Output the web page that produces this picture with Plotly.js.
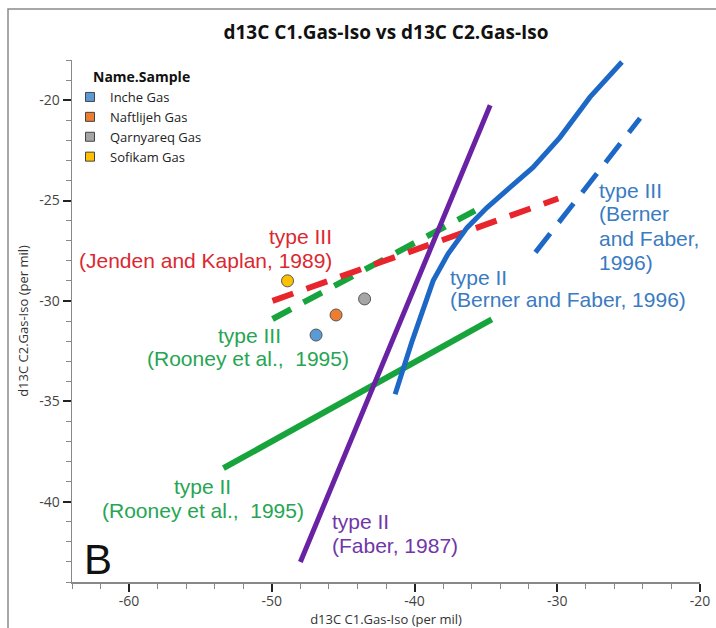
<!DOCTYPE html>
<html>
<head>
<meta charset="utf-8">
<script src="https://cdn.plot.ly/plotly-3.0.1.min.js"></script>
<style>html,body{margin:0;padding:0;background:#fff;}#chart{width:716px;height:628px;}</style>
</head>
<body>
<div id="chart"></div>
<script>
// ---- Sample data ----
const sampleNames = ["Inche Gas", "Naftlijeh Gas", "Qarnyareq Gas", "Sofikam Gas"];
const sampleC1 = [-46.9, -45.5, -43.5, -48.9];
const sampleC2 = [-31.7, -30.7, -29.9, -29.0];
const sampleColors = ["#5b9bd5", "#ed7d31", "#a5a5a5", "#ffc000"];

// ---- Reference lines ----
// type II (Faber, 1987)
const faberC1 = [-48.0, -34.7];
const faberC2 = [-43.0, -20.25];
// type II (Berner and Faber, 1996)
const bernerIIC1 = [-41.36, -40.17, -38.70, -37.65, -36.32, -34.92, -33.31, -31.70, -29.81, -27.71, -25.47];
const bernerIIC2 = [-34.65, -32.0, -29.0, -27.65, -26.35, -25.35, -24.35, -23.35, -21.85, -19.85, -18.1];
// type III (Berner and Faber, 1996)
const bernerIIIC1 = [-31.53, -24.2];
const bernerIIIC2 = [-27.58, -20.9];
// type III (Jenden and Kaplan, 1989)
const jendenC1 = [-49.95, -29.93];
const jendenC2 = [-30.0, -24.9];
// type III (Rooney et al., 1995)
const rooneyIIIC1 = [-49.95, -35.76];
const rooneyIIIC2 = [-30.9, -25.5];
// type II (Rooney et al., 1995)
const rooneyIIC1 = [-53.39, -34.59];
const rooneyIIC2 = [-38.33, -30.92];

// ---- Ticks ----
const xTickVals = [-60, -50, -40, -30, -20];
const xTickText = ["-60", "-50", "-40", "-30", "-20"];
const yTickVals = [-40, -35, -30, -25, -20];
const yTickText = ["-40", "-35", "-30", "-25", "-20"];

const traces = [];
function refLine(x, y, color, width, dash) {
  traces.push({x: x, y: y, type: "scatter", mode: "lines", showlegend: false, hoverinfo: "skip",
    line: {color: color, width: width, dash: dash || "solid"}});
}
refLine(rooneyIIC1, rooneyIIC2, "#17a43c", 6);
refLine(rooneyIIIC1, rooneyIIIC2, "#17a43c", 6, "21px,14px");
refLine(jendenC1, jendenC2, "#e8242c", 6, "22px,14px");
refLine(faberC1, faberC2, "#6a22a4", 5);
refLine(bernerIIC1, bernerIIC2, "#1d68c6", 5);
refLine(bernerIIIC1, bernerIIIC2, "#1d68c6", 5, "24px,14px");

// sample points
for (let i = 0; i < sampleNames.length; i++) {
  traces.push({x: [sampleC1[i]], y: [sampleC2[i]], type: "scatter", mode: "markers", name: sampleNames[i],
    showlegend: false, legendgroup: sampleNames[i],
    marker: {symbol: "circle", size: 12, color: sampleColors[i], line: {color: "#555", width: 1}}});
}
// legend entries (square swatches)
for (let i = 0; i < sampleNames.length; i++) {
  traces.push({x: [null], y: [null], type: "scatter", mode: "markers", name: sampleNames[i],
    showlegend: true, legendgroup: sampleNames[i],
    marker: {symbol: "square", size: 9, color: sampleColors[i], line: {color: "#444", width: 1}}});
}

const annFont = "Liberation Sans, Arial, sans-serif";
function ann(text, x, y, color, xanchor) {
  return {text: text, x: x, y: y, xref: "x", yref: "y", showarrow: false, xanchor: xanchor, yanchor: "middle",
    font: {family: annFont, size: 21, color: color}};
}
const red = "#dc2830", green = "#26a552", blue = "#3a7bc2", purple = "#7236a8";
const annotations = [
  ann("type III", -45.63, -26.8, red, "right"),
  ann("(Jenden and Kaplan, 1989)", -45.63, -28.0, red, "right"),
  ann("type III", -51.58, -31.7, green, "center"),
  ann("(Rooney et al.,  1995)", -51.65, -32.85, green, "center"),
  ann("type III", -27.21, -24.5, blue, "left"),
  ann("(Berner", -27.21, -25.65, blue, "left"),
  ann("and Faber,", -27.21, -26.9, blue, "left"),
  ann("1996)", -27.21, -28.1, blue, "left"),
  ann("type II", -37.63, -28.83, blue, "left"),
  ann("(Berner and Faber, 1996)", -37.63, -29.92, blue, "left"),
  ann("type II", -54.84, -39.25, green, "center"),
  ann("(Rooney et al.,  1995)", -54.84, -40.42, green, "center"),
  ann("type II", -45.91, -41.0, purple, "left"),
  ann("(Faber, 1987)", -45.91, -42.17, purple, "left"),
  {text: "B", x: -63.28, y: -42.9, xref: "x", yref: "y", showarrow: false, xanchor: "left", yanchor: "middle",
    font: {family: annFont, size: 42, color: "#111"}},
  {text: "<b>Name.Sample</b>", x: (90.7 - 72) / 628, y: (582 - 76.7) / 522, xref: "paper", yref: "paper",
    showarrow: false, xanchor: "left", yanchor: "middle",
    font: {family: "Open Sans, sans-serif", size: 14, color: "#111"}}
];

const tickFont = {family: "Open Sans, sans-serif", size: 14, color: "#444"};
const layout = {
  width: 716, height: 628,
  margin: {l: 72, r: 16, t: 60, b: 46},
  paper_bgcolor: "#fff", plot_bgcolor: "#fff",
  title: {text: "d13C C1.Gas-Iso vs d13C C2.Gas-Iso", x: 0.5, xref: "paper", y: 1 - 32 / 628, yref: "container",
    yanchor: "middle", font: {family: "Open Sans, sans-serif", size: 19, weight: "bold", color: "#111"}},
  xaxis: {range: [-64, -20], showgrid: false, zeroline: false, showline: true, linecolor: "#888", linewidth: 1.5,
    tickmode: "array", tickvals: xTickVals, ticktext: xTickText, ticks: "outside", ticklen: 8, tickwidth: 2,
    tickcolor: "#222", tickfont: tickFont, ticklabelstandoff: -2,
    minor: {tickmode: "linear", tick0: -64, dtick: 2, ticks: "outside", ticklen: 5, tickwidth: 1, tickcolor: "#888"},
    title: {text: "d13C C1.Gas-Iso (per mil)", standoff: 2, font: {family: "Open Sans, sans-serif", size: 13, color: "#333"}}},
  yaxis: {range: [-44, -18], showgrid: false, zeroline: false, showline: true, linecolor: "#888", linewidth: 1.5,
    tickmode: "array", tickvals: yTickVals, ticktext: yTickText, ticks: "outside", ticklen: 8, tickwidth: 2,
    tickcolor: "#222", tickfont: tickFont,
    minor: {tickmode: "linear", tick0: -44, dtick: 1, ticks: "outside", ticklen: 5, tickwidth: 1, tickcolor: "#888"},
    title: {text: "d13C C2.Gas-Iso (per mil)", standoff: 7, font: {family: "Open Sans, sans-serif", size: 13, color: "#333"}}},
  legend: {x: (70 - 72) / 628, xanchor: "left", y: (582 - 82) / 522, yanchor: "top", bgcolor: "rgba(0,0,0,0)",
    font: {family: "Open Sans, sans-serif", size: 13, color: "#222"}, traceorder: "normal"},
  annotations: annotations,
  shapes: [{type: "rect", xref: "paper", yref: "paper", x0: (8 - 72) / 628, x1: (730 - 72) / 628,
    y0: (582 - 640) / 522, y1: (582 - 9) / 522, line: {color: "#8a8a8a", width: 1.5}, fillcolor: "rgba(0,0,0,0)", layer: "below"}],
  showlegend: true
};

Plotly.newPlot("chart", traces, layout, {displayModeBar: false, staticPlot: true});
</script>
</body>
</html>
